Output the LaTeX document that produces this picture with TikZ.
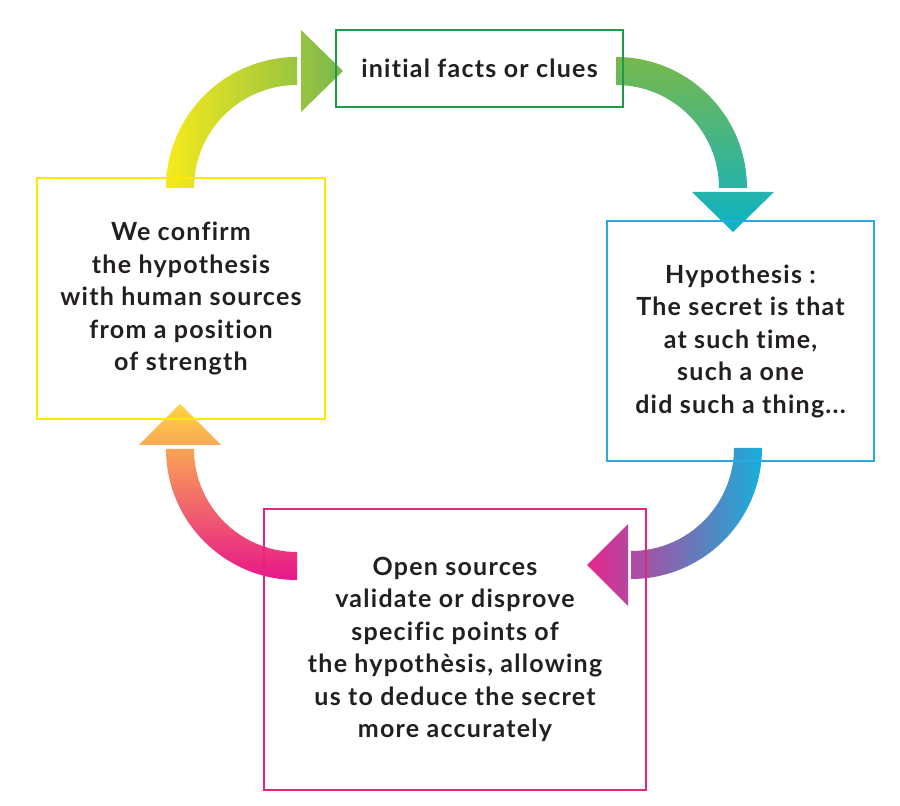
\documentclass[tikz,border=0pt]{standalone}
\usepackage{fontspec}
\setmainfont{Lato}[LetterSpace=5,Ligatures={NoCommon}]
\usetikzlibrary{positioning,calc}
\definecolor{txtgray}{HTML}{231F20}
\definecolor{boxgreen}{HTML}{1E9A4A}
\definecolor{boxcyan}{HTML}{27AAE1}
\definecolor{boxyellow}{HTML}{FFE900}
\definecolor{boxpink}{HTML}{E5247E}
\definecolor{arrYellow}{HTML}{F7EA1C}
\definecolor{arrGreen}{HTML}{78B84C}
\definecolor{arrTeal}{HTML}{0BB2C6}
\definecolor{arrPink}{HTML}{E6268C}
\definecolor{arrCyan}{HTML}{16AFDA}
\definecolor{arrOrange}{HTML}{FFD444}
\definecolor{arrMagenta}{HTML}{E8168A}

\begin{document}
\begin{tikzpicture}[x=1pt,y=1pt,
  box/.style={draw,line width=1.5pt,align=center,inner sep=0pt,
              font=\fontsize{25}{32.5}\selectfont\bfseries,text=txtgray}]
\useasboundingbox (0,0) rectangle (900,806);
% arc centres
\coordinate (c1) at (297,618);
\coordinate (c2) at (616,618);
\coordinate (c3) at (631,358);
\coordinate (c4) at (297,357);
% arrows: band + head, one shading each
\shade[left color=arrYellow,right color=arrGreen]
  ($(c1)+(-131,0)$) arc (180:90:131) -- ++(0,-28) arc (90:180:103) -- cycle
  (301,776) -- (343,735) -- (301,694) -- cycle;
\shade[top color=arrGreen,bottom color=arrTeal]
  ($(c2)+(0,131)$) arc (90:0:131) -- ++(-28,0) arc (0:90:103) -- cycle
  (692,614) -- (733,574) -- (774,614) -- cycle;
\shade[left color=arrPink,right color=arrCyan]
  ($(c3)+(131,0)$) arc (0:-90:131) -- ++(0,28) arc (-90:0:103) -- cycle
  (628,282) -- (587,241) -- (628,200) -- cycle;
\shade[top color=arrOrange,bottom color=arrMagenta]
  ($(c4)+(0,-131)$) arc (270:180:131) -- ++(28,0) arc (180:270:103) -- cycle
  (139,361) -- (180,402) -- (221,361) -- cycle;
% boxes
\node[box,draw=boxgreen,minimum width=287pt,minimum height=77pt] (clues) at (479.5,737.5)
  {initial facts or clues};
\node[box,draw=boxcyan,minimum width=267pt,minimum height=240pt] (hypo) at (740.5,465)
  {Hypothesis :\\The secret is that\\at such time,\\such a one\\did such a thing...};
\node[box,draw=boxpink,minimum width=382pt,minimum height=281pt] (open) at (455,156.5)
  {Open sources\\validate or disprove\\specific points of\\the hypothèsis, allowing\\us to deduce the secret\\more accurately};
\node[box,draw=boxyellow,minimum width=288pt,minimum height=241pt] (confirm) at (181,507.5)
  {We confirm\\the hypothesis\\with human sources\\from a position\\of strength};
\end{tikzpicture}
\end{document}
